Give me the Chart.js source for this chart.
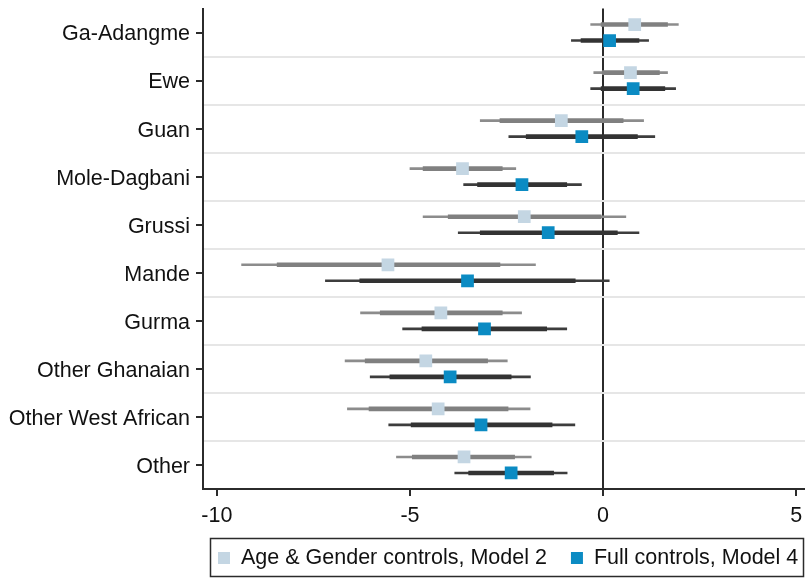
<!DOCTYPE html>
<html>
<head>
<meta charset="utf-8">
<script src="https://cdn.jsdelivr.net/npm/chart.js@4.4.1/dist/chart.umd.min.js"></script>
<style>
html, body { margin: 0; padding: 0; background: #fff; }
</style>
</head>
<body>
<canvas id="myChart" width="805" height="578"></canvas>
<script>
// groups, top to bottom
var groups = ['Ga-Adangme', 'Ewe', 'Guan', 'Mole-Dagbani', 'Grussi', 'Mande', 'Gurma', 'Other Ghanaian', 'Other West African', 'Other'];
var xTicks = [-10, -5, 0, 5];
var seriesLabels = ['Age & Gender controls, Model 2', 'Full controls, Model 4'];

// Model 2 (age & gender controls)
var m2Coef = [0.82, 0.71, -1.08, -3.64, -2.04, -5.57, -4.20, -4.59, -4.27, -3.60];
var m2Lo95 = [-0.32, -0.24, -3.18, -5.00, -4.66, -9.36, -6.28, -6.68, -6.62, -5.35];
var m2Hi95 = [1.95, 1.67, 1.05, -2.26, 0.59, -1.75, -2.11, -2.48, -1.89, -1.86];
var m2Lo90 = [-0.05, -0.02, -2.67, -4.66, -4.01, -8.44, -5.77, -6.16, -6.06, -4.94];
var m2Hi90 = [1.67, 1.46, 0.52, -2.61, -0.05, -2.67, -2.61, -2.99, -2.46, -2.29];

// Model 4 (full controls)
var m4Coef = [0.17, 0.78, -0.55, -2.10, -1.42, -3.51, -3.07, -3.96, -3.16, -2.38];
var m4Lo95 = [-0.82, -0.32, -2.44, -3.61, -3.75, -7.19, -5.19, -6.03, -5.55, -3.84];
var m4Hi95 = [1.18, 1.88, 1.34, -0.56, 0.93, 0.16, -0.94, -1.88, -0.73, -0.93];
var m4Lo90 = [-0.57, -0.05, -1.99, -3.25, -3.18, -6.30, -4.69, -5.52, -4.97, -3.48];
var m4Hi90 = [0.93, 1.60, 0.89, -0.94, 0.37, -0.72, -1.46, -2.38, -1.32, -1.28];

var FONT = 'Liberation Sans, Arial, sans-serif';
var FSIZE = 21.5;
var AXIS = '#2b2b2b';
var CLEAR = 'rgba(0,0,0,0)';
var m2Color = '#c4d6e3';
var m4Color = '#0b8bc3';
var shift = 1 / 6;

function ciBars(lo, hi, off) {
    return groups.map(function (g, i) { return { y: i + off, x: [lo[i], hi[i]] }; });
}
function coefPoints(coef, off) {
    return groups.map(function (g, i) { return { y: i + off, x: coef[i] }; });
}
function ciSet(label, lo, hi, off, color, thick, order) {
    return {
        type: 'bar', label: label, indexAxis: 'y', grouped: false,
        data: ciBars(lo, hi, off), backgroundColor: color,
        barThickness: thick, borderWidth: 0, order: order
    };
}
function noPad(s) {
    s.paddingTop = 0; s.paddingBottom = 0; s.paddingLeft = 0; s.paddingRight = 0;
}

// legend in a box under the axis
var legendBox = {
    id: 'legendBox',
    afterDraw: function (chart) {
        var ctx = chart.ctx;
        ctx.save();
        ctx.strokeStyle = AXIS;
        ctx.lineWidth = 1.5;
        ctx.strokeRect(210.5, 538.5, 593, 38);
        ctx.font = FSIZE + 'px ' + FONT;
        ctx.textBaseline = 'middle';
        var x = 218;
        [m2Color, m4Color].forEach(function (c, i) {
            ctx.fillStyle = c;
            ctx.fillRect(x, 552, 12, 12);
            ctx.fillStyle = '#111';
            ctx.fillText(seriesLabels[i], x + 23, 558);
            x += 23 + ctx.measureText(seriesLabels[i]).width + 24;
        });
        ctx.restore();
    }
};

var ctx = document.getElementById('myChart').getContext('2d');
var chart = new Chart(ctx, {
    type: 'bar',
    data: {
        datasets: [
            { type: 'scatter', label: seriesLabels[0], data: coefPoints(m2Coef, -shift), backgroundColor: m2Color, pointStyle: 'rect', pointRadius: 9, borderWidth: 0, order: 0 },
            { type: 'scatter', label: seriesLabels[1], data: coefPoints(m4Coef, shift), backgroundColor: m4Color, pointStyle: 'rect', pointRadius: 9, borderWidth: 0, order: 0 },
            ciSet('m2 90', m2Lo90, m2Hi90, -shift, '#808080', 4, 1),
            ciSet('m2 95', m2Lo95, m2Hi95, -shift, '#8c8c8c', 2, 2),
            ciSet('m4 90', m4Lo90, m4Hi90, shift, '#333333', 4, 1),
            ciSet('m4 95', m4Lo95, m4Hi95, shift, '#3d3d3d', 2, 2)
        ]
    },
    options: {
        responsive: false,
        animation: false,
        layout: { autoPadding: false, padding: { top: 8.5, right: 0, bottom: 0, left: 0 } },
        plugins: { legend: { display: false }, tooltip: { enabled: false } },
        scales: {
            x: {
                type: 'linear', position: 'bottom', min: -10.36, max: 5.23, z: 1, offset: false,
                afterBuildTicks: function (s) { s.ticks = xTicks.map(function (v) { return { value: v }; }); },
                afterFit: function (s) { s.height = 89; noPad(s); },
                grid: {
                    offset: false,
                    color: function (c) { return c.tick && c.tick.value === 0 ? AXIS : CLEAR; },
                    lineWidth: 2, tickColor: AXIS, tickLength: 7
                },
                border: { color: AXIS, width: 2 },
                ticks: { font: { family: FONT, size: FSIZE }, color: '#111', padding: 7, maxRotation: 0, autoSkip: false }
            },
            y: {
                type: 'linear', min: -0.5, max: groups.length - 0.5, reverse: true, offset: false, beginAtZero: false,
                afterBuildTicks: function (s) {
                    var t = [];
                    groups.forEach(function (g, i) { t.push({ value: i - 0.5 }); t.push({ value: i }); });
                    t.push({ value: groups.length - 0.5 });
                    s.ticks = t;
                },
                afterFit: function (s) { s.width = 203; noPad(s); },
                grid: {
                    offset: false,
                    color: function (c) {
                        var v = c.tick ? c.tick.value : 0;
                        return (v % 1 !== 0 && v > -0.5 && v < groups.length - 0.5) ? '#e6e6e6' : CLEAR;
                    },
                    lineWidth: 2,
                    tickColor: function (c) { return c.tick && Number.isInteger(c.tick.value) ? AXIS : CLEAR; },
                    tickLength: 7
                },
                border: { color: AXIS, width: 2 },
                ticks: {
                    font: { family: FONT, size: FSIZE }, color: '#111', padding: 6, autoSkip: false, labelOffset: 2,
                    callback: function (v) { return Number.isInteger(v) ? groups[v] : ''; }
                }
            }
        }
    },
    plugins: [legendBox]
});
</script>
</body>
</html>
